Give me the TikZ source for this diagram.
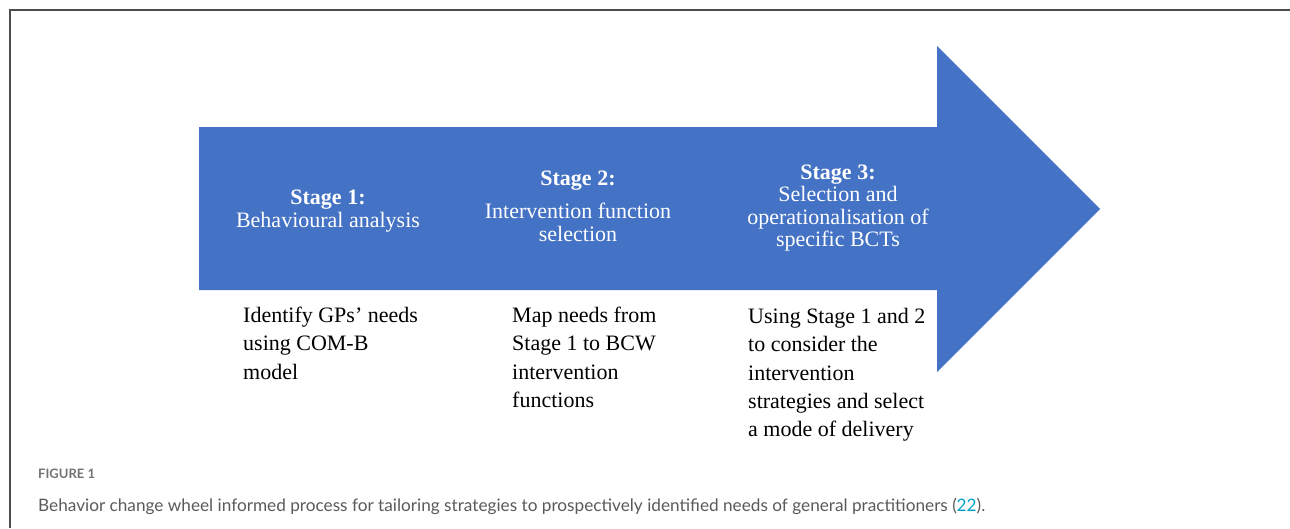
\documentclass[tikz,border=0pt]{standalone}
\usepackage{fontspec}
\setmainfont{Liberation Serif}
\newfontfamily\capfont{Lato}
\definecolor{arrowblue}{HTML}{4472C4}
\definecolor{framegray}{HTML}{4D4D4D}
\definecolor{capgray}{HTML}{5A5A5A}
\definecolor{refcyan}{HTML}{00A3C8}
\begin{document}
\begin{tikzpicture}[x=1pt,y=-1pt,
    stagetext/.style={text=white,align=center,inner sep=0pt,
      font=\fontsize{22}{22.5}\selectfont},
    needtext/.style={text=black,align=left,anchor=north west,inner sep=0pt,
      font=\fontsize{22}{28.3}\selectfont},
    captext/.style={anchor=base west,inner sep=0pt,text=capgray}]
  \useasboundingbox (0,0) rectangle (1290,528);
  % frame
  \draw[framegray,line width=1.4pt] (10,528) -- (10,10) -- (1290,10);
  % arrow
  \fill[arrowblue] (199,127) -- (937,127) -- (937,46) -- (1100,209)
    -- (937,372) -- (937,290) -- (199,290) -- cycle;
  \draw
    (328,211) node[stagetext] (stage1){\textbf{Stage 1:}\\Behavioural analysis}
    (578,206.5) node[stagetext] (stage2){\textbf{Stage 2:}\\[10.5pt]Intervention function\\selection}
    (838,208) node[stagetext] (stage3){\textbf{Stage 3:}\\Selection and\\operationalisation of\\specific BCTs};
  \draw
    (243,307) node[needtext] (need1){Identify GPs’ needs\\using COM-B\\model}
    (512,307) node[needtext] (need2){Map needs from\\Stage 1 to BCW\\intervention\\functions}
    (748,308) node[needtext] (need3){Using Stage 1 and 2\\to consider the\\intervention\\strategies and select\\a mode of delivery};
  % caption
  \node[captext,text=capgray!85,font=\capfont\bfseries\fontsize{13}{16}\selectfont] (figlabel) at (38,478) {FIGURE 1};
  \node[captext,font=\capfont\fontsize{17.2}{20}\selectfont] (figcaption) at (38,511)
    {Behavior change wheel informed process for tailoring strategies to prospectively identified needs of general practitioners (\textcolor{refcyan}{22}).};
\end{tikzpicture}
\end{document}
